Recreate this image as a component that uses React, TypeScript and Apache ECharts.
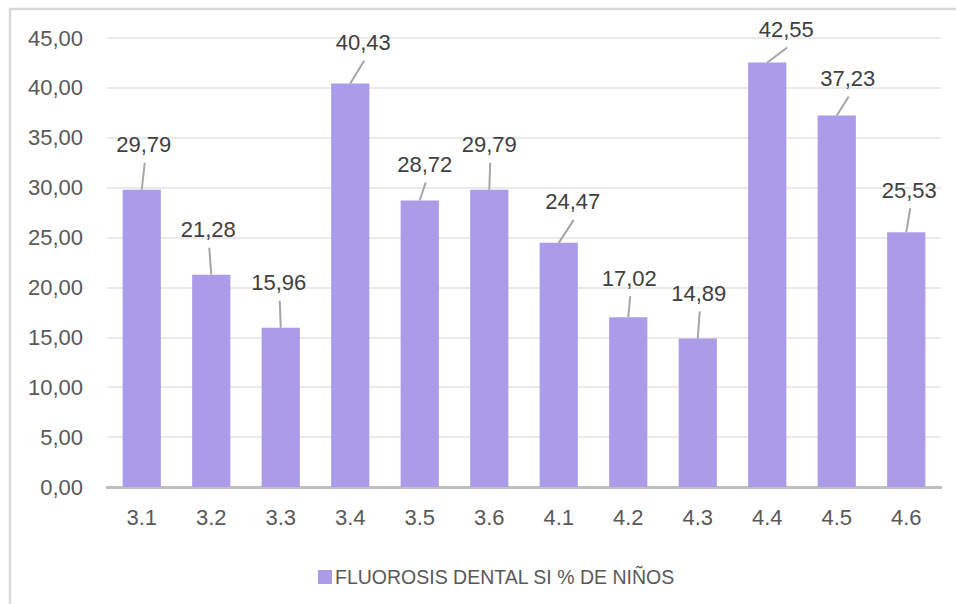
import React, { useEffect, useRef } from "react";
import * as echarts from "echarts";

// Categories (school codes) and share of children with dental fluorosis (%)
const categories = ["3.1", "3.2", "3.3", "3.4", "3.5", "3.6", "4.1", "4.2", "4.3", "4.4", "4.5", "4.6"];
const fluorosisPct = [29.79, 21.28, 15.96, 40.43, 28.72, 29.79, 24.47, 17.02, 14.89, 42.55, 37.23, 25.53];
const seriesName = "FLUOROSIS DENTAL SI % DE NIÑOS";

// Y-axis scale
const yMin = 0;
const yMax = 45;
const yStep = 5;

// Where each value label sits relative to the top-centre of its bar (px),
// the leader line runs from the bar top to just under the label
const labelOffsets: [number, number][] = [
  [2, -45], [-3, -45], [-2, -45], [13, -41], [5, -36], [0, -45],
  [14, -41], [1, -39], [1, -45], [19, -33], [11, -37], [3, -42],
];

const BAR_COLOR = "#ab9ce9";
const FONT = "'Liberation Sans', Arial, sans-serif";

const fmt = (v: number) => v.toFixed(2).replace(".", ",");

export default function App() {
  const ref = useRef<HTMLDivElement>(null);

  useEffect(() => {
    if (!ref.current) return;
    const chart = echarts.init(ref.current, undefined, { renderer: "svg" });

    chart.setOption({
      animation: false,
      backgroundColor: "#ffffff",
      textStyle: { fontFamily: FONT },
      graphic: [
        {
          type: "rect",
          shape: { x: 10, y: 9, width: 980, height: 640 },
          style: { fill: "none", stroke: "#d9d9d9", lineWidth: 2.5 },
          silent: true,
          z: -1,
        },
      ],
      grid: { left: 107, right: 15, top: 38, bottom: 117, containLabel: false },
      legend: {
        top: 562,
        left: 313,
        itemWidth: 14,
        itemHeight: 14,
        itemGap: 10,
        icon: "rect",
        textStyle: { fontSize: 19.5, color: "#595959", fontFamily: FONT, padding: [0, 0, 0, -2] },
        data: [seriesName],
      },
      xAxis: {
        type: "category",
        data: categories,
        axisLine: { lineStyle: { color: "#bfbfbf", width: 3 } },
        axisTick: { show: false },
        axisLabel: { fontSize: 22, color: "#595959", margin: 19, fontFamily: FONT },
      },
      yAxis: {
        type: "value",
        min: yMin,
        max: yMax,
        interval: yStep,
        axisLine: { show: false },
        axisTick: { show: false },
        splitLine: { lineStyle: { color: "#ebebeb", width: 2 } },
        axisLabel: { fontSize: 22, color: "#595959", margin: 24, fontFamily: FONT, formatter: (v: number) => fmt(v) },
      },
      series: [
        {
          name: seriesName,
          type: "bar",
          data: fluorosisPct,
          barCategoryGap: "45%",
          itemStyle: { color: BAR_COLOR },
        },
        {
          // value labels with leader lines
          type: "custom",
          silent: true,
          z: 5,
          data: fluorosisPct.map((v, i) => [i, v]),
          renderItem: (params: any, api: any) => {
            const i = api.value(0);
            const v = api.value(1);
            const p = api.coord([i, v]);
            const off = labelOffsets[i] || [0, -40];
            const lx = p[0] + off[0];
            const ly = p[1] + off[1];
            return {
              type: "group",
              children: [
                {
                  type: "line",
                  shape: { x1: p[0], y1: p[1], x2: lx + 1, y2: ly + 18 },
                  style: { stroke: "#a6a6a6", lineWidth: 2 },
                },
                {
                  type: "text",
                  x: lx,
                  y: ly,
                  style: {
                    text: fmt(v),
                    fontSize: 22,
                    fontFamily: FONT,
                    fill: "#404040",
                    align: "center",
                    verticalAlign: "middle",
                  },
                },
              ],
            };
          },
        },
      ],
    });

    return () => chart.dispose();
  }, []);

  return (
    <div
      ref={ref}
      style={{ position: "fixed", left: 0, top: 0, width: 956, height: 604, background: "#fff" }}
    />
  );
}
